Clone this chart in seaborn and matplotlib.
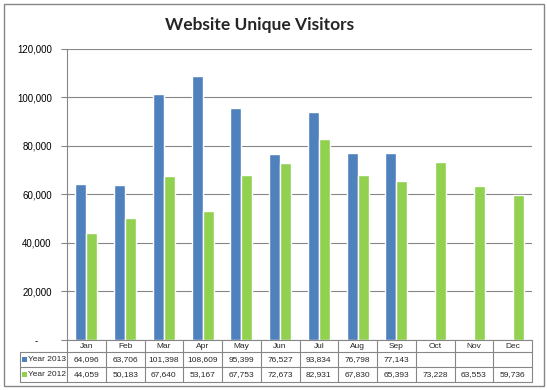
import matplotlib
matplotlib.use("Agg")
import numpy as np
import pandas as pd
import matplotlib.pyplot as plt
import seaborn as sns
from matplotlib.transforms import blended_transform_factory
from matplotlib.patches import Rectangle
from matplotlib.lines import Line2D
from matplotlib.ticker import FuncFormatter

months = ["Jan", "Feb", "Mar", "Apr", "May", "Jun", "Jul", "Aug", "Sep", "Oct", "Nov", "Dec"]
visitors_2013 = [64096, 63706, 101398, 108609, 95399, 76527, 93834, 76798, 77143, np.nan, np.nan, np.nan]
visitors_2012 = [44059, 50183, 67640, 53167, 67753, 72673, 82931, 67830, 65393, 73228, 63553, 59736]
series = ["Year 2013", "Year 2012"]
colors = ["#4F81BD", "#92D050"]
yticks = [0, 20000, 40000, 60000, 80000, 100000, 120000]
title = "Website Unique Visitors"

sns.set_theme(style="white")
plt.rcParams["font.family"] = ["Liberation Sans", "DejaVu Sans"]

W, H = 547, 390
GRID = "#868686"
fig = plt.figure(figsize=(W / 100, H / 100), dpi=100)
fig.patch.set_facecolor("white")

def fy(py):
    return 1 - py / H

def fx(px):
    return px / W

ax = fig.add_axes([fx(67), fy(340), 465 / W, (340 - 48.5) / H])

df = pd.DataFrame({
    "Month": months * 2,
    "Series": [series[0]] * len(months) + [series[1]] * len(months),
    "Visitors": list(visitors_2013) + list(visitors_2012),
})
sns.barplot(data=df, x="Month", y="Visitors", hue="Series", hue_order=series,
            order=months, palette=colors, width=0.57, saturation=1, legend=False,
            ax=ax, errorbar=None)

ax.set_xlim(-0.5, len(months) - 0.5)
ax.set_ylim(0, 120000)
ax.set_yticks(yticks)
ax.yaxis.set_major_formatter(FuncFormatter(lambda v, _: "-     " if v == 0 else f"{int(v):,}"))
ax.set_axisbelow(True)
ax.yaxis.grid(True, color=GRID, lw=0.8)
ax.xaxis.grid(False)
ax.set_xlabel("")
ax.set_ylabel("")
ax.set_xticks([])
for s in ["top", "right"]:
    ax.spines[s].set_visible(False)
for s in ["left", "bottom"]:
    ax.spines[s].set_color(GRID)
    ax.spines[s].set_linewidth(0.8)
ax.tick_params(axis="y", length=4, width=0.8, color=GRID, pad=7, labelsize=7, labelcolor="black", left=True)
ax.set_facecolor("white")

# Data table
tr = blended_transform_factory(ax.transData, fig.transFigure)
rows_y = [340.5, 352.3, 366.8, 381.8]
n = len(months)
for i in range(n + 1):
    x = i - 0.5
    fig.add_artist(Line2D([x, x], [fy(rows_y[0]), fy(rows_y[3])], transform=tr, color=GRID, lw=0.8))
for y in rows_y[1:]:
    fig.add_artist(Line2D([-0.5, n - 0.5], [fy(y), fy(y)], transform=tr, color=GRID, lw=0.8))
    fig.add_artist(Line2D([fx(20), fx(67)], [fy(y), fy(y)], transform=fig.transFigure, color=GRID, lw=0.8))
fig.add_artist(Line2D([fx(20), fx(20)], [fy(rows_y[1]), fy(rows_y[3])], transform=fig.transFigure, color=GRID, lw=0.8))

fs = 6
for i, m in enumerate(months):
    fig.text(i, fy((rows_y[0] + rows_y[1]) / 2), m, transform=tr, ha="center", va="center", fontsize=fs)
for r, vals in enumerate([visitors_2013, visitors_2012]):
    yc = fy((rows_y[r + 1] + rows_y[r + 2]) / 2)
    for i, v in enumerate(vals):
        if not np.isnan(v):
            fig.text(i, yc, f"{int(v):,}", transform=tr, ha="center", va="center", fontsize=fs)
    fig.add_artist(Rectangle((fx(22), yc - 2.5 / H), 5 / W, 5 / H, transform=fig.transFigure,
                             facecolor=colors[r], edgecolor="none"))
    fig.text(fx(28.5), yc, series[r], transform=fig.transFigure, ha="left", va="center", fontsize=fs)

# Title
fig.text(fx(260), fy(25), title, ha="center", va="center", fontsize=12.5, fontweight="bold",
         family=["Lato", "DejaVu Sans"])

# Outer border
fig.add_artist(Rectangle((fx(3.5), fy(386)), 540 / W, 382.5 / H, transform=fig.transFigure,
                         facecolor="none", edgecolor=GRID, lw=1))

fig.savefig("out.png", dpi=100, facecolor="white")
